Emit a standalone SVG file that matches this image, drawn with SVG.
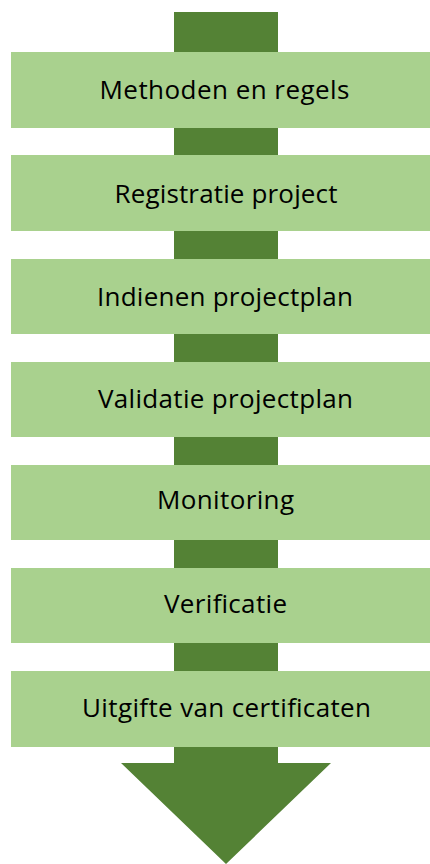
<svg xmlns="http://www.w3.org/2000/svg" width="430" height="864" viewBox="0 0 430 864">
<style>
.box{fill:#A9D18E}
.arrow{fill:#548235}
.lbl{font-family:"Open Sans","Noto Sans",sans-serif;font-size:26px;fill:#000;text-anchor:middle}
</style>
<rect width="430" height="864" fill="#fff"/>
<g id="arrow"><path class="arrow" d="M174 12 H278 V763 H331 L226 864 L121 763 H174 Z"/></g>
<g id="connectors"/>
<g id="n1"><rect class="box" x="11" y="52" width="419" height="76"/><text class="lbl" x="224.5" y="99" textLength="250" lengthAdjust="spacing">Methoden en regels</text></g>
<g id="n2"><rect class="box" x="11" y="155" width="419" height="76"/><text class="lbl" x="226" y="203" textLength="223" lengthAdjust="spacing">Registratie project</text></g>
<g id="n3"><rect class="box" x="11" y="259" width="419" height="75"/><text class="lbl" x="225" y="306" textLength="256" lengthAdjust="spacing">Indienen projectplan</text></g>
<g id="n4"><rect class="box" x="11" y="362" width="419" height="75"/><text class="lbl" x="225.5" y="408" textLength="255" lengthAdjust="spacing">Validatie projectplan</text></g>
<g id="n5"><rect class="box" x="11" y="465" width="419" height="75"/><text class="lbl" x="225.5" y="509" textLength="137" lengthAdjust="spacing">Monitoring</text></g>
<g id="n6"><rect class="box" x="11" y="568" width="419" height="75"/><text class="lbl" x="225.5" y="613" textLength="123" lengthAdjust="spacing">Verificatie</text></g>
<g id="n7"><rect class="box" x="11" y="671" width="419" height="76"/><text class="lbl" x="226.5" y="717" textLength="289" lengthAdjust="spacing">Uitgifte van certificaten</text></g>
</svg>
